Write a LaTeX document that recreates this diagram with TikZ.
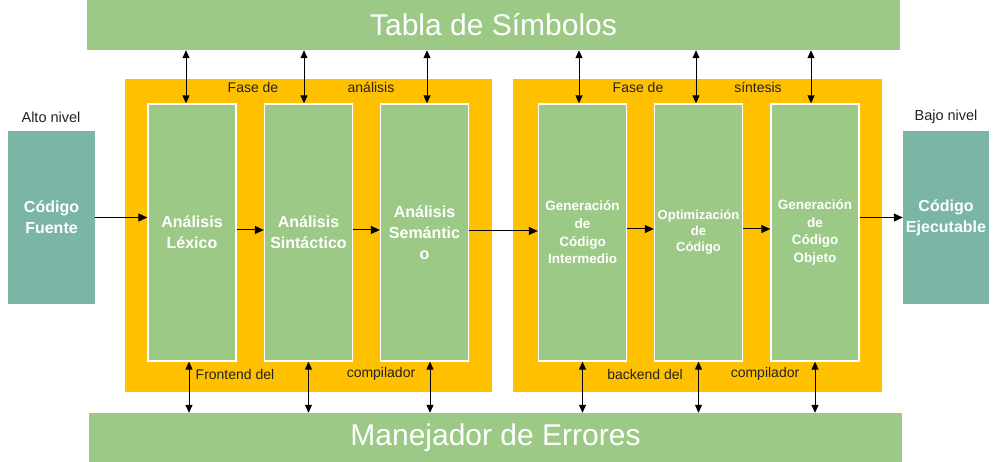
\documentclass[tikz,border=0pt]{standalone}
\usepackage{fontspec}
\setmainfont{Liberation Sans}
\usetikzlibrary{arrows.meta}
\definecolor{gbar}{RGB}{156,201,134}
\definecolor{tealbox}{RGB}{122,181,166}
\definecolor{orng}{RGB}{255,192,0}
\definecolor{lbl}{RGB}{35,35,35}
\begin{document}
\begin{tikzpicture}[x=1pt,y=-1pt,
  bar/.style={fill=gbar, minimum width=813pt, minimum height=50pt, inner sep=0pt, text=white, font=\fontsize{30}{30}\selectfont},
  panel/.style={fill=orng, minimum width=367pt, minimum height=313pt, inner sep=0pt},
  stage/.style={fill=gbar, draw=white, line width=1.3pt, minimum width=88pt, minimum height=257pt, inner sep=0pt, text=white, align=center, font=\bfseries\fontsize{16}{21}\selectfont},
  smallstage/.style={stage, font=\bfseries\fontsize{13.5}{17.7}\selectfont},
  endbox/.style={fill=tealbox, minimum width=87pt, minimum height=173pt, inner sep=0pt, text=white, align=center, font=\bfseries\fontsize{16}{21}\selectfont},
  lab/.style={text=lbl, inner sep=0pt, font=\fontsize{14}{14}\selectfont},
  arr/.style={-{Triangle[length=9pt,width=8pt]}, line width=1pt, black},
  dbl/.style={{Triangle[length=8pt,width=7pt]}-{Triangle[length=8pt,width=7pt]}, line width=1pt, black}]
\useasboundingbox (0,0) rectangle (1000,462);
\fill[white] (0,0) rectangle (1000,462);

% bars
\node[bar] (tabla) at (493.5,25) {Tabla de Símbolos};
\node[bar, minimum height=49pt] (err) at (495.5,437.5) {Manejador de Errores};

% panels
\node[panel] (pa) at (308.5,235.5) {};
\node[panel, minimum width=369pt] (ps) at (697.5,235.5) {};

% panel labels
\node[lab] (fa1) at (253,87) {Fase de};
\node[lab] (fa2) at (371,87) {análisis};
\node[lab] (fs1) at (638,87) {Fase de};
\node[lab] (fs2) at (758,87) {síntesis};
\node[lab] (fe1) at (235,374) {Frontend del};
\node[lab] (fe2) at (381,374) {compilador};
\node[lab] (be1) at (645,374) {backend del};
\node[lab] (be2) at (765,374) {compilador};

% stages
\node[stage] (lex) at (192,232.5) {Análisis\\Léxico};
\node[stage] (sin) at (308.5,232.5) {Análisis\\Sintáctico};
\node[stage] (sem) at (424.5,232.5) {Análisis\\Semántic\\o};
\node[smallstage] (inter) at (582.5,232.5) {Generación\\de\\Código\\Intermedio};
\node[stage, font=\bfseries\fontsize{13}{16}\selectfont] (opt) at (698.5,232.5) {Optimización\\de\\Código};
\node[smallstage] (obj) at (815,232.5) {Generación\\de\\Código\\Objeto};

% end boxes
\node[endbox] (fuente) at (51.5,217.5) {Código\\Fuente};
\node[endbox, minimum width=86pt] (ejec) at (946,217.5) {Código\\Ejecutable};
\node[lab, font=\fontsize{14.5}{14.5}\selectfont] (alto) at (51,117) {Alto nivel};
\node[lab, font=\fontsize{14.5}{14.5}\selectfont] (bajo) at (946,117) {Bajo nivel};

% horizontal flow
\draw[arr] (fuente.east) -- (fuente.east -| lex.west);
\draw[arr] ([yshift=2.5pt]lex.east) -- ([yshift=2.5pt]sin.west);
\draw[arr] ([yshift=2.5pt]sin.east) -- ([yshift=2.5pt]sem.west);
\draw[arr] ([yshift=1.5pt]sem.east) -- ([yshift=1.5pt]inter.west);
\draw[arr] ([yshift=3.5pt]inter.east) -- ([yshift=3.5pt]opt.west);
\draw[arr] ([yshift=3.5pt]opt.east) -- ([yshift=3.5pt]obj.west);
\draw[arr] (obj.east |- ejec.west) -- (ejec.west);

% symbol table links
\path ([xshift=-6pt]lex.north) coordinate (t1)
      ([xshift=-4.5pt]sin.north) coordinate (t2)
      ([xshift=2.5pt]sem.north) coordinate (t3)
      ([xshift=-3.5pt]inter.north) coordinate (t4)
      ([xshift=-2.5pt]opt.north) coordinate (t5)
      ([xshift=-4pt]obj.north) coordinate (t6);
\foreach \c in {t1,t2,t3,t4,t5,t6}
  \draw[dbl] (\c |- tabla.south) -- (\c);

% error handler links
\path ([xshift=-3pt]lex.south) coordinate (b1)
      (sin.south) coordinate (b2)
      ([xshift=5.5pt]sem.south) coordinate (b3)
      (inter.south) coordinate (b4)
      (opt.south) coordinate (b5)
      (obj.south) coordinate (b6);
\foreach \c in {b1,b2,b3,b4,b5,b6}
  \draw[dbl] (\c) -- (\c |- err.north);
\end{tikzpicture}
\end{document}
